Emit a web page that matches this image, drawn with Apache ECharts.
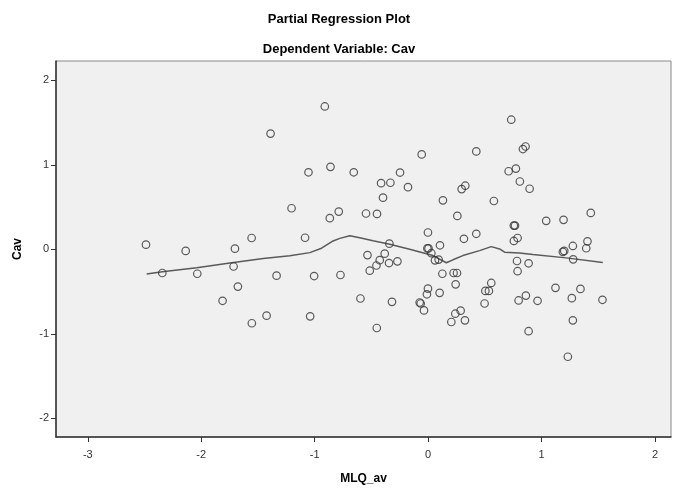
<!DOCTYPE html>
<html>
<head>
<meta charset="utf-8">
<script src="https://cdn.jsdelivr.net/npm/echarts@6/dist/echarts.min.js"></script>
<style>html,body{margin:0;padding:0;background:#fff}#c{width:678px;height:490px}</style>
</head>
<body>
<div id="c"></div>
<script>
const titleMain = "Partial Regression Plot";
const titleSub = "Dependent Variable: Cav";
const xName = "MLQ_av";
const yName = "Cav";
const xTicks = [-3, -2, -1, 0, 1, 2];
const yTicks = [-2, -1, 0, 1, 2];

const mlq = [-0.911,-1.389,-1.055,-0.861,-1.204,-0.867,-2.487,-2.137,-1.703,-1.556,-1.085,-2.343,-2.035,-1.715,-1.336,-1.005,-1.677,-1.812,-1.554,-1.424,-1.040,
0.732,-0.057,0.424,-0.656,-0.248,-0.415,-0.333,-0.178,-0.398,0.130,0.295,0.327,0.579,0.709,0.773,0.808,-0.788,-0.548,-0.451,0.257,
-0.002,0.424,0.315,0.104,-0.342,-0.007,0.003,0.028,0.060,0.092,-0.535,-0.383,-0.427,-0.271,-0.345,-0.456,0.755,0.765,0.755,0.788,0.783,
0.835,0.858,0.894,1.433,1.040,1.193,1.187,1.199,1.275,1.404,1.393,1.278,0.885,0.788,1.122,1.342,1.266,1.536,0.861,0.797,0.964,1.275,0.885,1.231,
-0.515,-0.773,0.125,0.224,0.254,0.242,0.556,0.504,0.535,-0.002,-0.011,0.101,-0.597,-0.319,-0.075,-0.066,-0.037,0.239,0.286,0.204,0.324,0.497,-0.453];
const cav = [1.692,1.371,0.913,0.977,0.487,0.370,0.056,-0.018,0.009,0.135,0.138,-0.279,-0.288,-0.202,-0.311,-0.315,-0.440,-0.608,-0.874,-0.784,-0.792,
1.535,1.124,1.160,0.913,0.910,0.784,0.789,0.737,0.613,0.581,0.714,0.754,0.573,0.925,0.957,0.804,0.448,0.425,0.420,0.397,
0.200,0.185,0.126,0.049,0.068,0.012,0.012,-0.045,-0.129,-0.120,-0.067,-0.050,-0.127,-0.141,-0.161,-0.190,0.282,0.282,0.100,0.135,-0.137,
1.188,1.218,0.718,0.432,0.338,0.350,-0.029,-0.018,0.041,0.096,0.014,-0.117,-0.164,-0.258,-0.455,-0.467,-0.577,-0.596,-0.546,-0.604,-0.608,-0.839,-0.968,-1.270,
-0.252,-0.303,-0.288,-0.279,-0.279,-0.413,-0.397,-0.491,-0.491,-0.464,-0.531,-0.514,-0.581,-0.620,-0.628,-0.640,-0.722,-0.761,-0.725,-0.859,-0.839,-0.640,-0.930];

const fitX = [-2.481,-2.343,-2.040,-1.747,-1.454,-1.219,-1.043,-0.940,-0.838,-0.779,-0.691,-0.603,-0.486,-0.339,-0.163,0.042,0.160,0.218,0.306,0.453,0.556,0.629,0.673,0.805,0.923,1.217,1.539];
const fitY = [-0.291,-0.264,-0.217,-0.162,-0.108,-0.076,-0.038,0.014,0.100,0.131,0.162,0.138,0.103,0.061,0.002,-0.073,-0.158,-0.123,-0.073,-0.014,0.033,0.006,-0.033,-0.041,-0.061,-0.100,-0.155];

const pts = mlq.map((x, i) => [x, cav[i]]);
const fit = fitX.map((x, i) => [x, fitY[i]]);
const font = "Liberation Sans, Arial, sans-serif";

const chart = echarts.init(document.getElementById('c'), null, {renderer: 'canvas'});
chart.setOption({
  animation: false,
  backgroundColor: '#ffffff',
  title: [
    {text: titleMain, left: 'center', top: 8, textStyle: {fontFamily: font, fontSize: 13, fontWeight: 'bold', color: '#000'}},
    {text: titleSub, left: 'center', top: 38, textStyle: {fontFamily: font, fontSize: 13, fontWeight: 'bold', color: '#000'}}
  ],
  grid: {left: 56, right: 7, top: 61, bottom: 51, show: true, backgroundColor: '#f0f0f0', borderColor: '#888', borderWidth: 1},
  xAxis: {
    type: 'value', min: -3.28, max: 2.14,
    name: xName, nameLocation: 'middle', nameGap: 36,
    nameTextStyle: {fontFamily: font, fontSize: 12, fontWeight: 'bold', color: '#000'},
    axisLine: {show: true, onZero: false, lineStyle: {color: '#333', width: 1.5}},
    axisTick: {show: true, length: 5, customValues: xTicks, lineStyle: {color: '#333'}},
    axisLabel: {customValues: xTicks, fontFamily: font, fontSize: 11, color: '#333', margin: 12},
    splitLine: {show: false}
  },
  yAxis: {
    type: 'value', min: -2.22, max: 2.23,
    name: yName, nameLocation: 'middle', nameGap: 32,
    nameTextStyle: {fontFamily: font, fontSize: 12, fontWeight: 'bold', color: '#000'},
    axisLine: {show: true, onZero: false, lineStyle: {color: '#333', width: 1.5}},
    axisTick: {show: true, length: 5, customValues: yTicks, lineStyle: {color: '#333'}},
    axisLabel: {customValues: yTicks, fontFamily: font, fontSize: 11, color: '#333', margin: 7},
    splitLine: {show: false}
  },
  series: [
    {type: 'line', data: fit, showSymbol: false, symbol: 'none', smooth: false,
     lineStyle: {color: '#5a5a5a', width: 1.5}, z: 2},
    {type: 'scatter', data: pts, symbol: 'circle', symbolSize: 7.5,
     itemStyle: {color: 'rgba(0,0,0,0)', borderColor: '#333', borderWidth: 1.2}, z: 3}
  ]
});
</script>
</body>
</html>
